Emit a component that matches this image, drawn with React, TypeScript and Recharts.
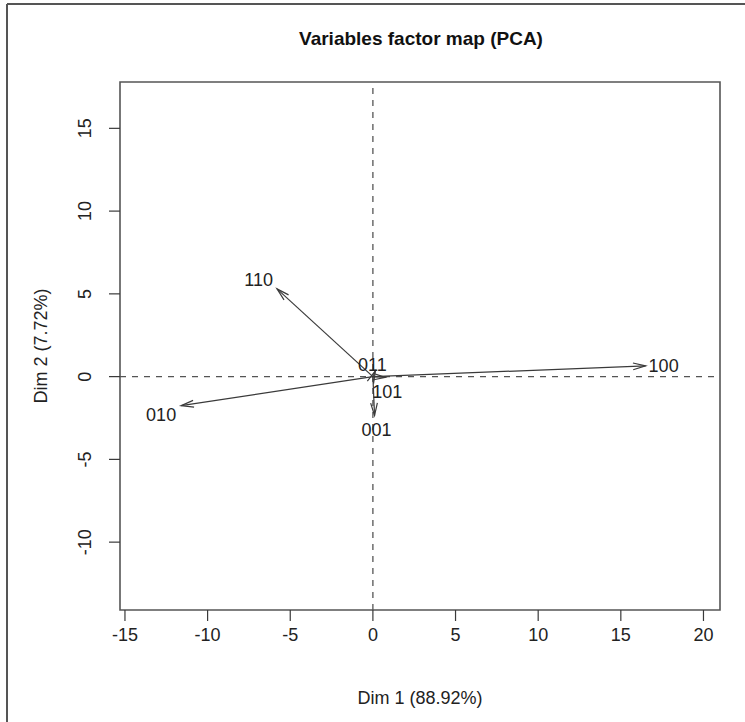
import React from 'react';
import { ScatterChart, Scatter, XAxis, YAxis, ReferenceLine, ReferenceArea, Customized } from 'recharts';

// variables and their coordinates on the first two dimensions
const varNames = ['100', '110', '010', '001', '011', '101'];
const dim1 = [16.5, -5.8, -11.6, 0.1, 0.15, 0.75];
const dim2 = [0.65, 5.3, -1.75, -2.35, 0.35, -0.05];
const labelSide = ['right', 'upleft', 'downleft', 'below', 'above', 'below'];

const xTicks = [-15, -10, -5, 0, 5, 10, 15, 20];
const yTicks = [-10, -5, 0, 5, 10, 15];
const xDomain = [-15.3, 21.0];
const yDomain = [-14.1, 17.8];

const FONT = '"Liberation Sans", Arial, Helvetica, sans-serif';
const INK = '#3a3a3a';
const FS = 18;

const points = varNames.map((name, i) => ({ x: dim1[i], y: dim2[i], name, side: labelSide[i] }));

function Arrow(props: any) {
    const { x1, y1, x2, y2 } = props;
    const ang = Math.atan2(y2 - y1, x2 - x1);
    const len = 13;
    const a = Math.PI / 12;
    const h1 = [x2 - len * Math.cos(ang - a), y2 - len * Math.sin(ang - a)];
    const h2 = [x2 - len * Math.cos(ang + a), y2 - len * Math.sin(ang + a)];
    return (
        <g>
            <line x1={x1} y1={y1} x2={x2} y2={y2} stroke={INK} strokeWidth={1.2} />
            <polyline
                points={`${h1[0]},${h1[1]} ${x2},${y2} ${h2[0]},${h2[1]}`}
                fill="none"
                stroke={INK}
                strokeWidth={1.2}
            />
        </g>
    );
}

function VarLabel(props: any) {
    const { cx, cy, payload } = props;
    let dx = 0;
    let dy = 0;
    let anchor: 'start' | 'middle' | 'end' = 'middle';
    if (payload.side === 'right') { dx = 3; anchor = 'start'; }
    if (payload.side === 'upleft') { dx = -4; dy = -9; anchor = 'end'; }
    if (payload.side === 'downleft') { dx = -5; dy = 9; anchor = 'end'; }
    if (payload.side === 'below') { dx = 2; dy = 14; anchor = 'middle'; }
    if (payload.side === 'above') { dx = -3; dy = -6; anchor = 'middle'; }
    return (
        <text
            x={cx + dx}
            y={cy + dy}
            dy="0.35em"
            textAnchor={anchor}
            fontSize={FS}
            fontFamily={FONT}
            fill="#222"
        >
            {payload.name}
        </text>
    );
}

function YTick(props: any) {
    const { x, y, payload } = props;
    const tx = x - 18;
    return (
        <text
            x={tx}
            y={y}
            transform={`rotate(-90, ${tx}, ${y})`}
            textAnchor="middle"
            fontSize={FS}
            fontFamily={FONT}
            fill="#222"
        >
            {payload.value}
        </text>
    );
}

function Decorations() {
    return (
        <g>
            <line x1={7} y1={4} x2={7} y2={722} stroke="#555" strokeWidth={2} />
            <line x1={7} y1={4} x2={745} y2={4} stroke="#555" strokeWidth={2} />
            <text x={421} y={45} textAnchor="middle" fontSize={19} fontWeight="bold" fontFamily={FONT} fill="#111">
                Variables factor map (PCA)
            </text>
            <text x={420} y={704} textAnchor="middle" fontSize={FS} fontFamily={FONT} fill="#222">
                Dim 1 (88.92%)
            </text>
            <text x={47} y={346} transform="rotate(-90, 47, 346)" textAnchor="middle" fontSize={FS} fontFamily={FONT} fill="#222">
                Dim 2 (7.72%)
            </text>
        </g>
    );
}

export default function App() {
    return (
        <div style={{ position: 'absolute', left: 0, top: 0, width: 745, height: 722, background: '#fff' }}>
            <ScatterChart width={745} height={722} margin={{ top: 82, right: 25, bottom: 0, left: 0 }}>
                <XAxis
                    type="number"
                    dataKey="x"
                    domain={xDomain}
                    ticks={xTicks}
                    allowDataOverflow
                    axisLine={false}
                    tickLine={{ stroke: INK, strokeWidth: 1.2 }}
                    tickSize={11}
                    tickMargin={7}
                    height={112}
                    tick={{ fontSize: FS, fontFamily: FONT, fill: '#222' }}
                />
                <YAxis
                    type="number"
                    dataKey="y"
                    domain={yDomain}
                    ticks={yTicks}
                    allowDataOverflow
                    axisLine={false}
                    tickLine={{ stroke: INK, strokeWidth: 1.2 }}
                    tickSize={11}
                    tickMargin={0}
                    width={120}
                    tick={<YTick />}
                />
                <ReferenceArea
                    x1={xDomain[0]}
                    x2={xDomain[1]}
                    y1={yDomain[0]}
                    y2={yDomain[1]}
                    fill="none"
                    fillOpacity={0}
                    stroke="#555"
                    strokeWidth={1.6}
                    ifOverflow="visible"
                />
                <ReferenceLine y={0} stroke="#555" strokeDasharray="6 6" strokeWidth={1.3} />
                <ReferenceLine x={0} stroke="#555" strokeDasharray="6 6" strokeWidth={1.3} />
                {points.map((p) => (
                    <ReferenceLine
                        key={p.name}
                        segment={[{ x: 0, y: 0 }, { x: p.x, y: p.y }]}
                        shape={Arrow}
                        ifOverflow="visible"
                    />
                ))}
                <Scatter data={points} shape={VarLabel} isAnimationActive={false} />
                <Customized component={Decorations} />
            </ScatterChart>
        </div>
    );
}
